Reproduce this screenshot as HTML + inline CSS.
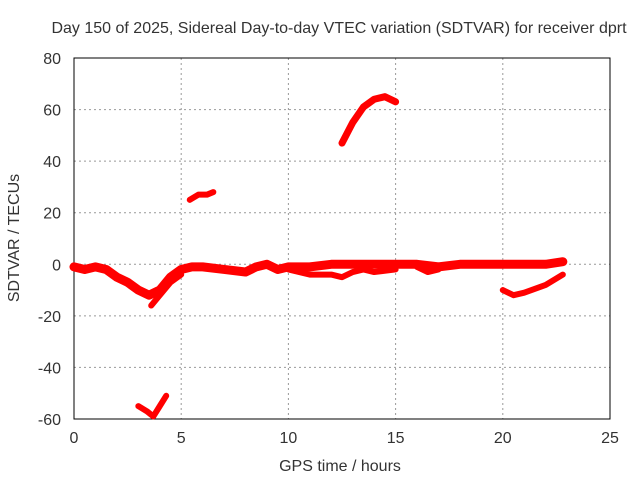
<!DOCTYPE html>
<html><head><meta charset="utf-8"><style>
body{margin:0;background:#fff;}
svg text{font-family:"Liberation Sans",sans-serif;font-size:16px;fill:#333;}
</style></head><body>
<svg id="chart" width="640" height="480" xmlns="http://www.w3.org/2000/svg">
<text x="339" y="33" text-anchor="middle">Day 150 of 2025, Sidereal Day-to-day VTEC variation (SDTVAR) for receiver dprt</text>
<text x="340" y="471" text-anchor="middle">GPS time / hours</text>
<text transform="translate(19,238) rotate(-90)" text-anchor="middle">SDTVAR / TECUs</text>
<g id="grid"></g>
<g id="axes"></g>
<g id="series"></g>
</svg>
<script>
const xTicks=[0,5,10,15,20,25];
const yTicks=[80,60,40,20,0,-20,-40,-60];
const segMain=[[0,-1],[0.5,-2],[1,-1],[1.5,-2],[2,-5],[2.5,-7],[3,-10],[3.5,-12],[4,-10],[4.5,-5],[5,-2],[5.5,-1],[6,-1],[7,-2],[8,-3],[8.5,-1],[9,0],[9.5,-2],[10,-1],[11,-1],[12,0],[13,0],[14,0],[15,0],[16,0],[17,-1],[18,0],[19,0],[20,0],[21,0],[22,0],[22.8,1]];
const segDip=[[3.6,-16],[4,-12],[4.5,-7],[5,-4]];
const segMid=[[10,-2],[11,-4],[12,-4],[12.5,-5],[13,-3],[13.5,-2],[14,-3],[15,-2]];
const segMid2=[[16,-1],[16.5,-3],[17,-2]];
const segLowRight=[[20,-10],[20.5,-12],[21,-11],[22,-8],[22.8,-4]];
const segUpper=[[5.4,25],[5.8,27],[6.2,27],[6.5,28]];
const segArc=[[12.5,47],[13,55],[13.5,61],[14,64],[14.5,65],[15,63]];
const segBottom=[[3,-55],[3.4,-57],[3.7,-59],[4,-55],[4.3,-51]];
const segments=[segMain,segDip,segMid,segMid2,segLowRight,segUpper,segArc,segBottom];
const widths=[9,6,6,6,6,6,7,6];
const X0=74,X1=610,Y0=419,Y1=58;
const sx=v=>X0+(v-0)/25*(X1-X0);
const sy=v=>Y0-(v+60)/140*(Y0-Y1);
const NS="http://www.w3.org/2000/svg";
const grid=document.getElementById('grid'),axes=document.getElementById('axes'),series=document.getElementById('series');
function mk(t,a,p){const e=document.createElementNS(NS,t);for(const k in a)e.setAttribute(k,a[k]);p.appendChild(e);return e;}
xTicks.forEach(t=>{
 const l=mk('line',{x1:sx(t),x2:sx(t),y1:Y1,y2:Y0,stroke:'#999','stroke-dasharray':'2,3'},grid);
 
 
 const tx=mk('text',{x:sx(t),y:Y0+24,'text-anchor':'middle'},axes);
 tx.textContent=t;
 
 
});
yTicks.forEach(t=>{
 const l=mk('line',{x1:X0,x2:X1,y1:sy(t),y2:sy(t),stroke:'#999','stroke-dasharray':'2,3'},grid);
 
 
 const tx=mk('text',{x:X0-13,y:sy(t)+6,'text-anchor':'end'},axes);
 tx.textContent=t;
 
 
});
const frame=mk('rect',{x:X0,y:Y1,width:X1-X0,height:Y0-Y1,fill:'none',stroke:'#000','stroke-width':1},axes);


segments.forEach((s,i)=>{
 const p=mk('polyline',{points:s.map(d=>sx(d[0])+','+sy(d[1])).join(' '),fill:'none',stroke:'#f00','stroke-width':widths[i],'stroke-linejoin':'round','stroke-linecap':'round'},series);
 
 
});
</script>
</body></html>
